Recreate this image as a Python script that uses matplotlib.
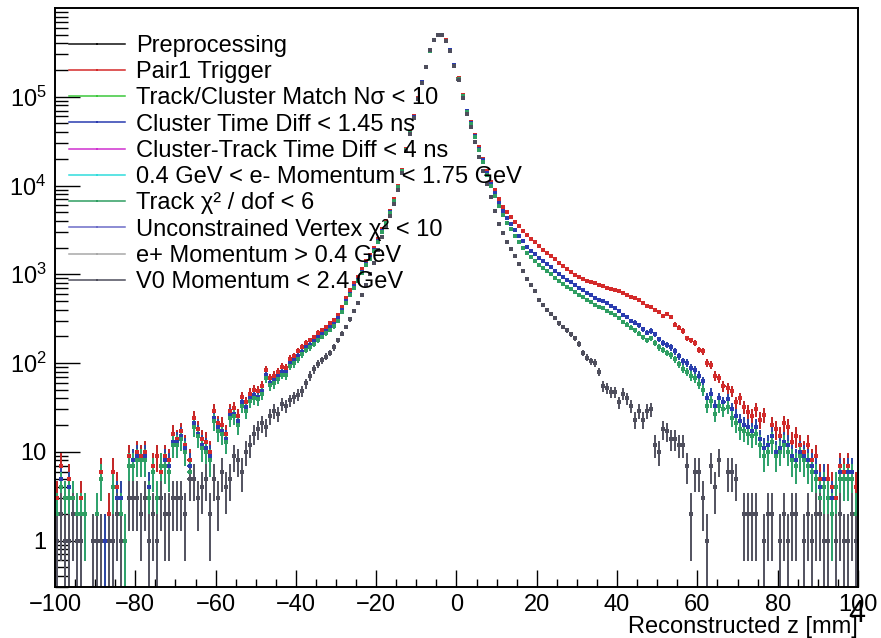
import numpy as np
import matplotlib
matplotlib.use("Agg")
import matplotlib.pyplot as plt
from matplotlib.lines import Line2D
from matplotlib.ticker import FixedLocator, LogLocator, MultipleLocator, NullFormatter

plt.rcParams['font.family'] = ['Liberation Sans', 'DejaVu Sans']
plt.rcParams['mathtext.fontset'] = 'custom'
plt.rcParams['mathtext.rm'] = 'Liberation Sans'
plt.rcParams['mathtext.it'] = 'Liberation Sans:italic'

# 1 mm bins from -100 to 100 mm
bin_edges = np.arange(-100, 101, 1)
bin_centers = 0.5 * (bin_edges[:-1] + bin_edges[1:])

# Counts per bin, rows of 10 bins (-100..-90, -90..-80, ...)
counts_trigger = [
    3, 7, 3, 5, 3, 2, 3, 2, 0, 1,
    2, 6, 1, 2, 6, 4, 3, 1, 9, 8,
    10, 9, 10, 4, 7, 9, 6, 9, 8, 16,
    14, 17, 12, 8, 24, 18, 14, 13, 10, 29,
    21, 20, 16, 29, 31, 25, 41, 36, 45, 50,
    48, 55, 83, 68, 72, 80, 90, 88, 112, 120,
    135, 150, 168, 180, 195, 218, 235, 255, 280, 305,
    350, 430, 540, 660, 790, 940, 1150, 1400, 1650, 2000,
    2500, 3200, 4000, 5200, 7000, 10000, 15000, 26000, 40000, 60000,
    97000, 147000, 219000, 339000, 440000, 500000, 500000, 434000, 339000, 229000,
    163000, 105000, 70000, 52000, 37000, 27000, 20000, 14500, 11000, 8800,
    7000, 5800, 5000, 4400, 3900, 3500, 3100, 2800, 2500, 2300,
    2100, 1900, 1750, 1600, 1480, 1350, 1230, 1150, 1060, 990,
    930, 880, 850, 820, 800, 760, 740, 700, 690, 660,
    640, 610, 590, 560, 540, 520, 470, 440, 430, 400,
    380, 340, 360, 330, 270, 250, 230, 190, 180, 170,
    140, 135, 100, 95, 72, 68, 55, 52, 48, 36,
    40, 32, 28, 25, 30, 23, 26, 12, 20, 18,
    15, 21, 19, 13, 15, 12, 10, 12, 8, 9,
    5, 4, 5, 4, 3, 7, 6, 7, 5, 4,
]

counts_cluster_time = [
    2, 5, 3, 4, 3, 2, 2, 2, 0, 1,
    2, 5, 1, 1, 4, 3, 3, 1, 7, 8,
    9, 8, 9, 4, 6, 3, 7, 8, 7, 13,
    13, 15, 11, 7, 21, 16, 12, 11, 9, 24,
    19, 17, 14, 26, 27, 22, 36, 32, 40, 44,
    42, 49, 74, 60, 64, 71, 80, 79, 100, 107,
    120, 134, 150, 161, 175, 196, 212, 230, 253, 276,
    318, 392, 495, 607, 730, 870, 1070, 1310, 1550, 1880,
    2370, 3050, 3820, 5000, 6750, 9700, 14600, 25400, 39200, 58800,
    95500, 145000, 216000, 335000, 435000, 495000, 495000, 429000, 335000, 226000,
    160000, 103000, 68500, 50700, 35900, 26100, 19200, 13800, 10400, 8200,
    6400, 5200, 4300, 3700, 3150, 2700, 2350, 2050, 1850, 1680,
    1520, 1400, 1300, 1200, 1100, 1020, 940, 870, 810, 750,
    700, 660, 620, 590, 545, 520, 500, 470, 440, 420,
    390, 350, 330, 300, 285, 265, 240, 220, 230, 210,
    185, 170, 160, 150, 135, 120, 105, 100, 88, 84,
    72, 62, 40, 45, 33, 40, 36, 39, 30, 25,
    22, 20, 19, 17, 19, 14, 11, 12, 15, 10,
    11, 13, 12, 9, 8, 10, 9, 8, 7, 6,
    4, 5, 3, 3, 4, 6, 5, 6, 6, 2,
]

counts_track_chi2 = [
    2, 4, 3, 3, 3, 2, 2, 2, 0, 1,
    2, 5, 0, 1, 4, 2, 2, 1, 7, 7,
    8, 8, 8, 3, 6, 3, 7, 7, 6, 12,
    12, 14, 10, 6, 19, 15, 11, 10, 8, 22,
    17, 16, 13, 24, 25, 20, 33, 29, 37, 40,
    39, 45, 68, 56, 59, 66, 74, 73, 93, 99,
    112, 125, 140, 150, 164, 184, 199, 216, 238, 260,
    300, 372, 470, 578, 697, 833, 1025, 1260, 1500, 1820,
    2310, 2980, 3740, 4900, 6620, 9520, 14400, 25100, 38800, 58200,
    94600, 144000, 214000, 332000, 431000, 491000, 491000, 425000, 332000, 224000,
    158000, 102000, 67500, 49800, 35000, 25300, 18500, 13200, 9900, 7700,
    5900, 4700, 3800, 3200, 2700, 2300, 2000, 1740, 1560, 1420,
    1280, 1180, 1090, 1000, 920, 850, 785, 725, 675, 625,
    585, 550, 515, 490, 455, 430, 415, 390, 365, 345,
    320, 290, 270, 250, 235, 215, 195, 180, 190, 170,
    150, 140, 130, 122, 110, 97, 86, 80, 72, 68,
    58, 50, 33, 37, 27, 33, 30, 32, 24, 21,
    18, 17, 16, 15, 16, 12, 9, 10, 13, 9,
    10, 12, 10, 8, 7, 9, 8, 7, 6, 5,
    3, 4, 3, 2, 4, 5, 5, 5, 5, 2,
]

counts_v0 = [
    1, 2, 1, 1, 2, 1, 1, 0, 0, 1,
    1, 1, 0, 1, 1, 2, 1, 0, 3, 3,
    3, 2, 3, 1, 2, 1, 3, 2, 2, 3,
    3, 3, 2, 5, 5, 3, 4, 5, 2, 5,
    3, 6, 4, 5, 9, 8, 6, 10, 12, 16,
    18, 21, 19, 25, 29, 27, 35, 33, 38, 41,
    44, 48, 59, 72, 85, 98, 108, 118, 130, 150,
    180, 215, 255, 310, 390, 470, 580, 750, 1000, 1350,
    1900, 2600, 3400, 4500, 6200, 9000, 14000, 24500, 38500, 58000,
    95000, 144000, 215000, 333000, 432000, 492000, 492000, 425000, 330000, 222000,
    155000, 98000, 64000, 46000, 31000, 21000, 14500, 10500, 7400, 5100,
    3700, 2900, 2300, 1950, 1600, 1320, 1080, 880, 760, 640,
    520, 450, 400, 360, 320, 280, 255, 235, 210, 190,
    166, 130, 115, 105, 100, 80, 55, 52, 47, 47,
    36, 45, 40, 33, 23, 29, 23, 29, 30, 12,
    10, 18, 17, 14, 14, 12, 12, 7, 2, 6,
    6, 3, 1, 7, 4, 8, 0, 6, 6, 5,
    0, 2, 2, 2, 2, 0, 1, 2, 2, 0,
    1, 2, 1, 2, 2, 0, 1, 2, 1, 2,
    2, 1, 1, 0, 1, 2, 1, 1, 2, 1,
]

# Cut-flow stages, in drawing order: (label, counts, colour)
stages = [
    ("Preprocessing", counts_trigger, "#111111"),
    ("Pair1 Trigger", counts_trigger, "#d42a2a"),
    ("Track/Cluster Match N\u03c3 < 10", counts_cluster_time, "#3cc83c"),
    ("Cluster Time Diff < 1.45 ns", counts_cluster_time, "#2a3cb0"),
    ("Cluster-Track Time Diff < 4 ns", counts_track_chi2, "#d030d0"),
    ("0.4 GeV < e- Momentum < 1.75 GeV", counts_track_chi2, "#30dcdc"),
    ("Track \u03c7\u00b2 / dof < 6", counts_track_chi2, "#2f9e62"),
    ("Unconstrained Vertex \u03c7\u00b2 < 10", counts_v0, "#6c6cc8"),
    ("e+ Momentum > 0.4 GeV", counts_v0, "#a8a8a8"),
    ("V0 Momentum < 2.4 GeV", counts_v0, "#4e4e5c"),
]

fig = plt.figure(figsize=(8.81, 6.38), dpi=100)
ax = fig.add_axes([55 / 881, 1 - 587 / 638, (858 - 55) / 881, (587 - 8) / 638])

for label, counts, color in stages:
    n = np.asarray(counts, dtype=float)
    keep = n > 0
    ax.errorbar(bin_centers[keep], n[keep], xerr=0.5, yerr=np.sqrt(n[keep]),
                fmt="s", ms=2.2, mew=0, color=color, ecolor=color,
                elinewidth=1.3, capsize=0)

ax.set_yscale("log")
ax.set_xlim(-100, 100)
ax.set_ylim(0.3, 1e6)

# ROOT-like ticks: inside, bottom and left only
ax.xaxis.set_major_locator(MultipleLocator(20))
ax.xaxis.set_minor_locator(MultipleLocator(5))
ax.yaxis.set_major_locator(FixedLocator([1, 10, 100, 1e3, 1e4, 1e5]))
ax.yaxis.set_minor_locator(LogLocator(base=10, subs=np.arange(2, 10)))
ax.yaxis.set_minor_formatter(NullFormatter())
ax.set_yticklabels(["1", "10", "$10^{2}$", "$10^{3}$", "$10^{4}$", "$10^{5}$"])
ax.set_xticks([-100, -80, -60, -40, -20, 0, 20, 40, 60, 80, 100])
ax.set_xticklabels(["\u2212100", "\u221280", "\u221260", "\u221240", "\u221220",
                    "0", "20", "40", "60", "80", "100"])
ax.tick_params(axis="x", which="major", direction="in", length=12, width=1.0,
               labelsize=17, pad=5)
ax.tick_params(axis="x", which="minor", direction="in", length=5.5, width=1.0)
ax.tick_params(axis="y", which="major", direction="in", length=18, width=1.0,
               labelsize=17, pad=6)
ax.tick_params(axis="y", which="minor", direction="in", length=9, width=1.0)
for side in ax.spines.values():
    side.set_linewidth(1.4)

ax.set_xlabel("Reconstructed z [mm]", fontsize=17, loc="right", labelpad=0)

handles = [Line2D([0], [0], color=c, lw=1.1, marker="s", ms=2.0, mew=0)
           for _, _, c in stages]
labels = [s[0] for s in stages]
ax.legend(handles, labels, loc="upper left", bbox_to_anchor=(0.0, 0.978),
          frameon=False, fontsize=17, handlelength=2.35, handletextpad=0.5,
          labelspacing=0.18, borderaxespad=0.3, borderpad=0.3)

fig.text(857 / 881, 1 - 614 / 638, "4", fontsize=22, ha="center", va="center")

fig.savefig("out.png", dpi=100)
